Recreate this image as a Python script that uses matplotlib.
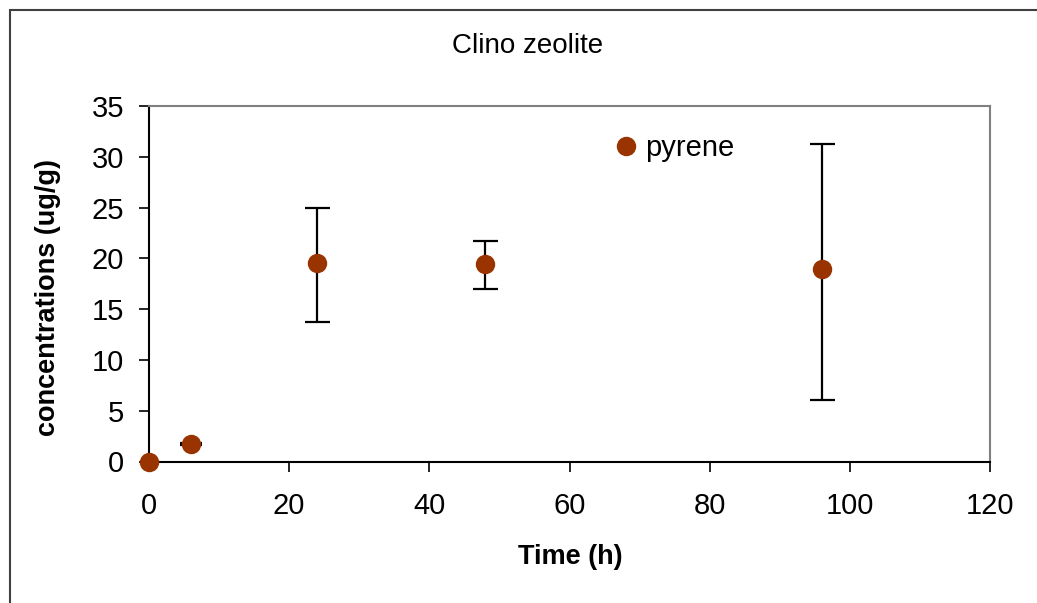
import matplotlib
matplotlib.use("Agg")
import matplotlib.pyplot as plt
from matplotlib.patches import Rectangle
from matplotlib.lines import Line2D

plt.rcParams['font.family'] = ['Liberation Sans', 'DejaVu Sans']

time_h = [0, 6, 24, 48, 96]
pyrene = [0.0, 1.7, 19.5, 19.4, 19.0]
err_low = [0.0, 0.1, 5.8, 2.4, 12.9]
err_high = [0.0, 0.1, 5.5, 2.3, 12.3]
x_ticks = [0, 20, 40, 60, 80, 100, 120]
y_ticks = [0, 5, 10, 15, 20, 25, 30, 35]

W, H = 1037, 603
fig = plt.figure(figsize=(W / 100, H / 100), dpi=100)
ax = fig.add_axes([149 / W, 1 - 461.5 / H, (990 - 149) / W, (461.5 - 106) / H])

color = '#993300'
fs_tick = 21
fs_lab = 19.5
fs_title = 20

big = [i for i, e in enumerate(err_low) if e > 1]
small = [i for i, e in enumerate(err_low) if 0 < e <= 1]
ax.errorbar([time_h[i] for i in big], [pyrene[i] for i in big],
            yerr=[[err_low[i] for i in big], [err_high[i] for i in big]],
            fmt='none', ecolor='black', elinewidth=1.6, capsize=9,
            capthick=1.6, zorder=2, clip_on=False)
ax.errorbar([time_h[i] for i in small], [pyrene[i] for i in small],
            yerr=[[err_low[i] for i in small], [err_high[i] for i in small]],
            fmt='none', ecolor='black', elinewidth=1.6, capsize=8,
            capthick=1.6, zorder=2, clip_on=False)
ax.plot(time_h, pyrene, 'o', color=color, markersize=14, markeredgewidth=0,
        zorder=3, clip_on=False)

ax.set_xlim(0, 120)
ax.set_ylim(0, 35)
ax.set_xticks(x_ticks)
ax.set_yticks(y_ticks)
ax.tick_params(axis='both', direction='out', length=7, width=1.2,
               labelsize=fs_tick, color='black')
ax.tick_params(axis='x', pad=15)
ax.tick_params(axis='y', pad=11)

for s in ['left', 'bottom']:
    ax.spines[s].set_color('black')
    ax.spines[s].set_linewidth(1.5)
for s in ['top', 'right']:
    ax.spines[s].set_color('#808080')
    ax.spines[s].set_linewidth(1.5)

fig.text(528 / W, 1 - 46 / H, 'Clino zeolite', ha='center', va='center',
         fontsize=fs_title)
fig.text(570 / W, 1 - 557 / H, 'Time (h)', ha='center', va='center',
         fontsize=fs_lab, fontweight='bold')
fig.text(48 / W, 1 - 298 / H, 'concentrations (ug/g)', ha='center', va='center',
         rotation=90, fontsize=fs_lab, fontweight='bold')

handle = Line2D([], [], marker='o', linestyle='none', color=color,
                markersize=14, markeredgewidth=0)
fig.legend([handle], ['pyrene'], loc='center left',
           bbox_to_anchor=(613 / W, 1 - 148 / H), frameon=False,
           fontsize=fs_tick, handlelength=0.9, handletextpad=0.2,
           borderpad=0, borderaxespad=0)

fig.patches.append(Rectangle((10 / W, -0.1), 1.2, 1.1 - 10 / H,
                             transform=fig.transFigure, fill=False,
                             edgecolor='#404040', linewidth=1.5))

fig.savefig('out.png', dpi=100)
